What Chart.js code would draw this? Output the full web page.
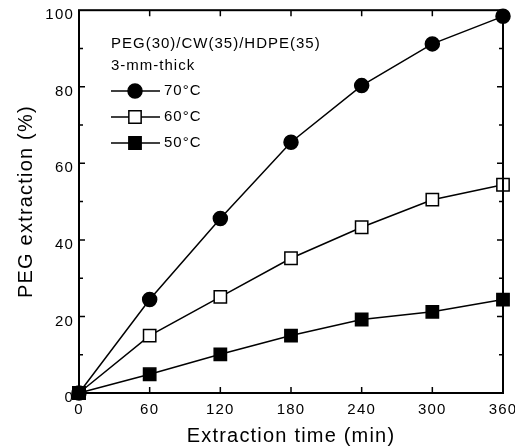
<!DOCTYPE html>
<html><head><meta charset="utf-8">
<script src="https://cdn.jsdelivr.net/npm/chart.js@4"></script>
<style>html,body{margin:0;padding:0;background:#fff}canvas{display:block}</style>
</head><body>
<canvas id="c" width="515" height="448"></canvas>
<script>
const times=[0,60,120,180,240,300,360];
const ext70=[0,24.4,45.6,65.5,80.3,91.2,98.4];
const ext60=[0,15,25.1,35.2,43.3,50.5,54.4];
const ext50=[0,4.9,10.1,15,19.2,21.2,24.4];
const seriesLabels=['70°C','60°C','50°C'];
const legendTitle=['PEG(30)/CW(35)/HDPE(35)','3-mm-thick'];
const xTitle='Extraction time (min)';
const yTitle='PEG extraction (%)';

const FONT='"Liberation Sans", Arial, Helvetica, sans-serif';
const pts=a=>a.map((v,i)=>({x:times[i],y:v}));

const frame={
  id:'frame',
  beforeDraw(chart){chart.ctx.letterSpacing='1.2px';},
  afterDatasetsDraw(chart){
    const {ctx,chartArea:a,scales:{x,y}}=chart;
    ctx.save();
    ctx.strokeStyle='#000';
    ctx.lineWidth=2;
    ctx.strokeRect(a.left,a.top,a.right-a.left,a.bottom-a.top);
    ctx.lineWidth=1.5;
    ctx.beginPath();
    for(let v=60;v<360;v+=60){
      const px=x.getPixelForValue(v);
      ctx.moveTo(px,a.bottom);ctx.lineTo(px,a.bottom-6);
      ctx.moveTo(px,a.top);ctx.lineTo(px,a.top+6);
    }
    for(let v=10;v<100;v+=10){
      const py=y.getPixelForValue(v);
      const L=(v%20===0)?6:4;
      ctx.moveTo(a.left,py);ctx.lineTo(a.left+L,py);
      ctx.moveTo(a.right,py);ctx.lineTo(a.right-L,py);
    }
    ctx.stroke();
    ctx.restore();
  },
  afterDraw(chart){
    const {ctx}=chart;
    ctx.save();
    ctx.fillStyle='#000';
    ctx.font='15px '+FONT;
    ctx.letterSpacing='1px';
    ctx.textBaseline='middle';
    ctx.textAlign='left';
    ctx.fillText(legendTitle[0],111,44);
    ctx.fillText(legendTitle[1],111,66);
    chart.data.datasets.forEach((ds,i)=>{
      const yy=91+i*26;
      ctx.strokeStyle='#000';
      ctx.lineWidth=1.5;
      ctx.beginPath();ctx.moveTo(111,yy);ctx.lineTo(160,yy);ctx.stroke();
      const cx=135;
      ctx.fillStyle=ds.pointBackgroundColor;
      ctx.lineWidth=ds.pointBorderWidth;
      ctx.beginPath();
      if(ds.pointStyle==='circle'){ctx.arc(cx,yy,ds.pointRadius,0,Math.PI*2);}
      else{const s=ds.pointRadius*Math.SQRT1_2;ctx.rect(cx-s,yy-s,2*s,2*s);}
      ctx.fill();ctx.stroke();
      ctx.fillStyle='#000';
      ctx.fillText(ds.label,164,yy);
    });
    ctx.restore();
    ctx.letterSpacing='0px';
  }
};

new Chart(document.getElementById('c'),{
  type:'line',
  data:{datasets:[
    {label:seriesLabels[0],data:pts(ext70),pointStyle:'circle',pointRadius:7,pointBackgroundColor:'#000',pointBorderColor:'#000',pointBorderWidth:1.5,borderColor:'#000',borderWidth:1.5,order:2,clip:false},
    {label:seriesLabels[1],data:pts(ext60),pointStyle:'rect',pointRadius:8.7,pointBackgroundColor:'#fff',pointBorderColor:'#000',pointBorderWidth:1.5,borderColor:'#000',borderWidth:1.5,order:1,clip:false},
    {label:seriesLabels[2],data:pts(ext50),pointStyle:'rect',pointRadius:8.7,pointBackgroundColor:'#000',pointBorderColor:'#000',pointBorderWidth:1.5,borderColor:'#000',borderWidth:1.5,order:0,clip:false}
  ]},
  options:{
    responsive:false,animation:false,
    layout:{padding:{top:4,right:12,left:0,bottom:0}},
    plugins:{legend:{display:false},tooltip:{enabled:false}},
    elements:{line:{tension:0}},
    scales:{
      x:{type:'linear',min:0,max:360,
        grid:{display:false,drawTicks:false},border:{display:false},
        ticks:{stepSize:60,padding:8,color:'#000',font:{family:FONT,size:15},maxRotation:0},
        title:{display:true,text:xTitle,color:'#000',font:{family:FONT,size:20},padding:{top:5,bottom:0}},
        afterFit(s){s.height=55;s.paddingLeft=0;s.paddingRight=0;}
      },
      y:{min:0,max:100,
        grid:{display:false,drawTicks:false},border:{display:false},
        ticks:{stepSize:20,padding:5,labelOffset:5,color:'#000',font:{family:FONT,size:15}},
        title:{display:true,text:yTitle,color:'#000',font:{family:FONT,size:20},padding:{top:14,bottom:0}},
        afterFit(s){s.width=79;s.paddingTop=0;s.paddingBottom=0;}
      }
    }
  },
  plugins:[frame]
});
</script>
</body></html>
